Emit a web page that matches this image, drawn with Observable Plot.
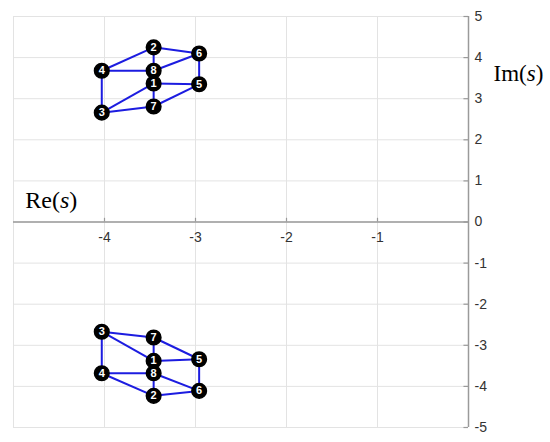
<!DOCTYPE html>
<html>
<head>
<meta charset="utf-8">
<script src="https://cdn.jsdelivr.net/npm/d3@7"></script>
<script src="https://cdn.jsdelivr.net/npm/@observablehq/plot@0.6"></script>
<style>
  html, body { margin: 0; padding: 0; background: #fff; }
</style>
</head>
<body>
<div id="chart"></div>
<script>
// Pole positions (upper half-plane) and lower half-plane
const nodeIds = [1, 2, 3, 4, 5, 6, 7, 8];
const nodeRe  = [-3.46, -3.46, -4.03, -4.03, -2.96, -2.96, -3.46, -3.46];
const nodeImUpper = [3.37, 4.25, 2.66, 3.68, 3.35, 4.10, 2.81, 3.68];
const nodeImLower = [-3.38, -4.23, -2.67, -3.68, -3.34, -4.11, -2.81, -3.68];
// Edges of the graph (cube)
const edgeFrom = [1, 1, 1, 3, 3, 4, 4, 2, 2, 6, 6, 5];
const edgeTo   = [5, 7, 3, 7, 4, 8, 2, 8, 6, 8, 5, 7];
// Tick labels
const xTicks = [-4, -3, -2, -1];
const yTicks = [5, 4, 3, 2, 1, 0, -1, -2, -3, -4, -5];
const xGrid = [-5, -4, -3, -2, -1, 0];
const yGrid = [-5, -4, -3, -2, -1, 0, 1, 2, 3, 4, 5];

const nodes = [];
nodeIds.forEach((id, i) => {
  nodes.push({id, re: nodeRe[i], im: nodeImUpper[i], half: "up"});
  nodes.push({id, re: nodeRe[i], im: nodeImLower[i], half: "down"});
});
const find = (id, half) => nodes.find(n => n.id === id && n.half === half);
const edges = [];
["up", "down"].forEach(half => {
  edgeFrom.forEach((a, i) => {
    const p = find(a, half), q = find(edgeTo[i], half);
    edges.push({x1: p.re, y1: p.im, x2: q.re, y2: q.im});
  });
});

const labelFont = "Liberation Sans, Arial, sans-serif";
const serif = "Liberation Serif, Times New Roman, serif";
const chart = Plot.plot({
  width: 550,
  height: 442,
  marginLeft: 13,
  marginRight: 82,
  marginTop: 16,
  marginBottom: 15,
  x: {domain: [-5, 0], axis: null},
  y: {domain: [-5, 5], axis: null},
  style: {background: "#fff", fontFamily: labelFont},
  marks: [
    Plot.ruleX(xGrid, {stroke: "#e3e3e3", strokeWidth: 1}),
    Plot.ruleY(yGrid, {stroke: "#e3e3e3", strokeWidth: 1}),
    // axes at origin
    Plot.ruleY([0], {x1: -5, x2: 0, stroke: "#9a9a9a", strokeWidth: 1.5}),
    Plot.ruleX([0], {y1: -5, y2: 5, stroke: "#9a9a9a", strokeWidth: 1.5}),
    // x ticks (upward)
    Plot.ruleX(xTicks, {y1: 0, y2: 0.09, stroke: "#9a9a9a", strokeWidth: 1.2}),
    // y ticks (leftward)
    Plot.ruleY(yTicks, {x1: -0.05, x2: 0, stroke: "#9a9a9a", strokeWidth: 1.2}),
    Plot.text(xTicks, {x: d => d, y: 0, dy: 16, text: d => String(d), fontSize: 14, fill: "#333"}),
    Plot.text(yTicks, {x: 0, y: d => d, dx: 6, text: d => String(d), fontSize: 14, fill: "#333", textAnchor: "start"}),
    // edges
    Plot.link(edges, {x1: "x1", y1: "y1", x2: "x2", y2: "y2", stroke: "#1c1ce0", strokeWidth: 2}),
    // nodes
    Plot.dot(nodes, {x: "re", y: "im", r: 7.3, fill: "#000", stroke: "#000"}),
    Plot.text(nodes, {x: "re", y: "im", text: d => String(d.id), fill: "#fff", fontSize: 11, fontWeight: "bold"}),
    // axis labels
    Plot.text(["Re(s)"], {x: -4.87, y: 0.52, text: d => d, textAnchor: "start", fontSize: 24, fill: "#000", fontFamily: serif, className: "lbl"}),
    Plot.text(["Im(s)"], {x: 0.275, y: 3.6, text: d => d, textAnchor: "start", fontSize: 23, fill: "#000", fontFamily: serif, className: "lbl"})
  ]
});
document.getElementById("chart").appendChild(chart);
// italicize the "s" in axis labels
chart.querySelectorAll(".lbl text").forEach(t => {
  const s = t.textContent;
  const m = s.match(/^(\w+)\((s)\)$/);
  if (m) {
    t.textContent = "";
    const ns = "http://www.w3.org/2000/svg";
    const a = document.createElementNS(ns, "tspan"); a.textContent = m[1] + "(";
    const b = document.createElementNS(ns, "tspan"); b.textContent = "s"; b.setAttribute("font-style", "italic");
    const c = document.createElementNS(ns, "tspan"); c.textContent = ")";
    t.append(a, b, c);
  }
});
</script>
</body>
</html>
